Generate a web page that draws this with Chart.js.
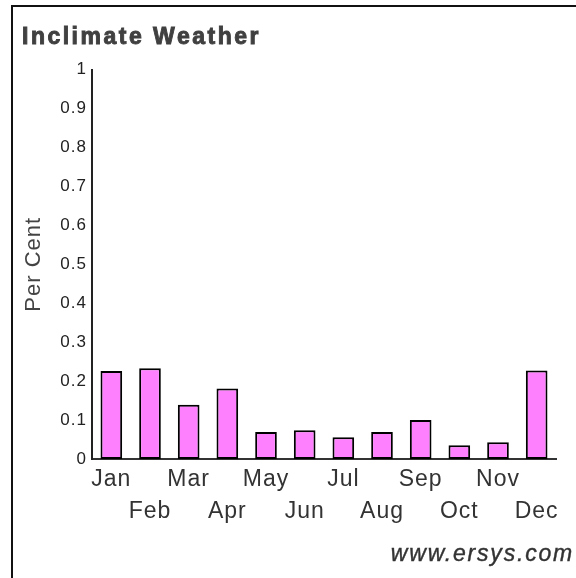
<!DOCTYPE html>
<html>
<head>
<meta charset="utf-8">
<script src="https://cdn.jsdelivr.net/npm/chart.js@4.4.1/dist/chart.umd.min.js"></script>
<style>
  html, body { margin: 0; padding: 0; background: #fff; }
  #wrap { position: relative; width: 576px; height: 578px; overflow: hidden; }
  #c { position: absolute; left: 0; top: 0; }
  #frame { position: absolute; left: 11px; top: 5px; right: -4px; bottom: -4px;
           border-left: 2px solid #111; border-top: 2px solid #111; pointer-events: none; }
</style>
</head>
<body>
<div id="wrap">
  <canvas id="c" width="576" height="578"></canvas>
  <div id="frame"></div>
</div>
<script>
// ---- data ----
const months = ['Jan','Feb','Mar','Apr','May','Jun','Jul','Aug','Sep','Oct','Nov','Dec'];
const perCent = [0.226, 0.233, 0.139, 0.181, 0.069, 0.074, 0.056, 0.069, 0.100, 0.035, 0.043, 0.227];
const yTickLabels = ['0','0.1','0.2','0.3','0.4','0.5','0.6','0.7','0.8','0.9','1'];
const chartTitle = 'Inclimate Weather';
const yAxisTitle = 'Per Cent';
const watermark = 'www.ersys.com';

const FONT = "'Liberation Sans', Arial, Helvetica, sans-serif";

const spacingPlugin = {
  id: 'spacing',
  beforeUpdate(chart) { chart.ctx.letterSpacing = '1px'; },
  beforeDraw(chart) { chart.ctx.letterSpacing = '1px'; }
};

const textPlugin = {
  id: 'texts',
  afterDraw(chart) {
    const ctx = chart.ctx;
    ctx.save();
    ctx.letterSpacing = '2.5px';
    ctx.fillStyle = '#404040';
    ctx.strokeStyle = '#404040';
    ctx.lineWidth = 0.9;
    ctx.font = 'bold 23px ' + FONT;
    ctx.textAlign = 'left';
    ctx.textBaseline = 'alphabetic';
    ctx.fillText(chartTitle, 22, 44);
    ctx.strokeText(chartTitle, 22, 44);
    ctx.letterSpacing = '1.8px';
    ctx.font = 'italic 23px ' + FONT;
    ctx.textAlign = 'right';
    ctx.fillStyle = '#333';
    ctx.strokeStyle = '#333';
    ctx.lineWidth = 0.4;
    ctx.fillText(watermark, 574, 561);
    ctx.strokeText(watermark, 574, 561);
    ctx.restore();
  }
};

new Chart(document.getElementById('c'), {
  type: 'bar',
  data: {
    labels: months,
    datasets: [{
      data: perCent,
      backgroundColor: '#ff80ff',
      borderColor: '#000',
      borderWidth: 2,
      borderSkipped: false,
      barPercentage: 0.56,
      categoryPercentage: 1.0
    }]
  },
  options: {
    responsive: false,
    animation: false,
    devicePixelRatio: 1,
    layout: { padding: { top: 69.5, right: 20, left: 0, bottom: 0 } },
    plugins: { legend: { display: false }, tooltip: { enabled: false }, title: { display: false } },
    scales: {
      x: {
        grid: { display: false, drawTicks: false },
        border: { display: true, color: '#333', width: 2 },
        ticks: {
          autoSkip: false, maxRotation: 0, minRotation: 0, padding: 5,
          color: '#333',
          font: { family: FONT, size: 23, lineHeight: 32 / 23 },
          callback: (v, i) => (i % 2 ? ['', months[i]] : months[i])
        },
        afterFit: (s) => { s.height = 119; }
      },
      y: {
        min: 0, max: 1,
        grid: { display: false, drawTicks: false },
        border: { display: true, color: '#222', width: 2 },
        ticks: {
          stepSize: 0.1, padding: 5, color: '#222',
          font: { family: FONT, size: 17 },
          callback: (v, i) => yTickLabels[i]
        },
        title: {
          display: true, text: yAxisTitle, color: '#444',
          font: { family: FONT, size: 22 },
          padding: { top: 21, bottom: 0 }
        },
        afterFit: (s) => { s.width = 92; }
      }
    }
  },
  plugins: [spacingPlugin, textPlugin]
});
</script>
</body>
</html>
